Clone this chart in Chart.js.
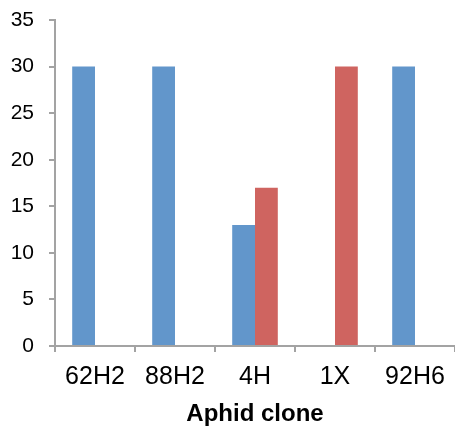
<!DOCTYPE html>
<html>
<head>
<meta charset="utf-8">
<script src="https://cdn.jsdelivr.net/npm/chart.js@4/dist/chart.umd.min.js"></script>
<style>
  html, body { margin: 0; padding: 0; background: #ffffff; overflow: hidden; }
  #wrap { width: 455px; height: 430px; }
</style>
</head>
<body>
<div id="wrap"><canvas id="c" width="455" height="430"></canvas></div>
<script>
// Aphid clones on the category axis
const clones = ['62H2', '88H2', '4H', '1X', '92H6'];
// Counts per clone for the two groups
const blueCounts = [30, 30, 13, 0, 30];
const redCounts = [0, 0, 17, 30, 0];
// Value axis range
const yMin = 0;
const yMax = 35;
const yStep = 5;

const axisGrey = '#A3A3A3';
const fontFamily = '"Liberation Sans", Arial, sans-serif';

new Chart(document.getElementById('c'), {
  type: 'bar',
  data: {
    labels: clones,
    datasets: [
      { label: 'A', data: blueCounts, backgroundColor: '#6296CB', borderWidth: 0 },
      { label: 'B', data: redCounts, backgroundColor: '#CF6460', borderWidth: 0 }
    ]
  },
  options: {
    responsive: false,
    animation: false,
    devicePixelRatio: 1,
    layout: { padding: { top: 20, right: 0, bottom: 0, left: 0 } },
    plugins: { legend: { display: false }, tooltip: { enabled: false } },
    datasets: { bar: { categoryPercentage: 0.57, barPercentage: 1.0 } },
    scales: {
      x: {
        afterFit: (scale) => { scale.height = 84; },
        grid: { display: true, drawOnChartArea: false, drawTicks: true, tickLength: 6, color: axisGrey, lineWidth: 2, offset: true },
        border: { display: true, color: axisGrey, width: 2 },
        ticks: { color: '#000', font: { family: fontFamily, size: 25 }, padding: 10, maxRotation: 0, autoSkip: false },
        title: { display: true, text: 'Aphid clone', color: '#000', font: { family: fontFamily, size: 24, weight: 'bold' }, padding: { top: 0, bottom: 1 } }
      },
      y: {
        min: yMin,
        max: yMax,
        afterFit: (scale) => { scale.width = 55; scale.paddingTop = 0; scale.paddingBottom = 0; },
        grid: { display: true, drawOnChartArea: false, drawTicks: true, tickLength: 6, color: axisGrey, lineWidth: 2 },
        border: { display: true, color: axisGrey, width: 2 },
        ticks: { stepSize: yStep, color: '#000', font: { family: fontFamily, size: 21 }, padding: 15 }
      }
    }
  }
});
</script>
</body>
</html>
